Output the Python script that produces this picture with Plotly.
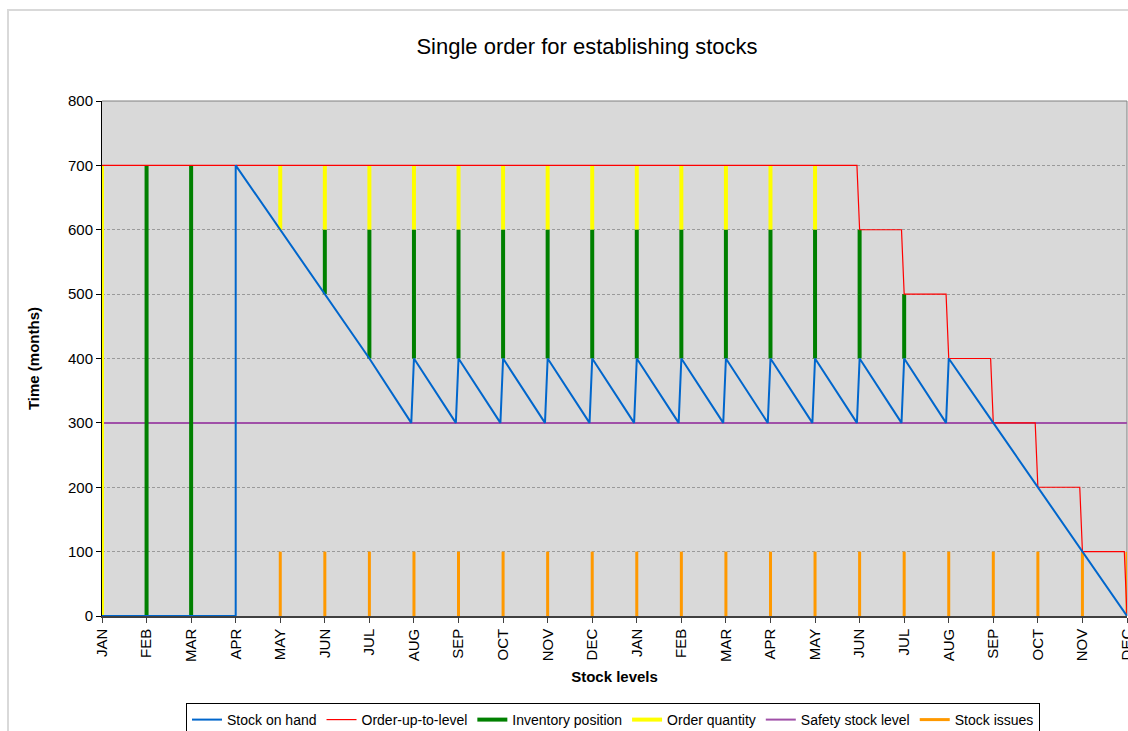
import plotly.graph_objects as go

# Month labels for the two-year horizon
months = ["JAN", "FEB", "MAR", "APR", "MAY", "JUN", "JUL", "AUG", "SEP", "OCT", "NOV", "DEC",
          "JAN", "FEB", "MAR", "APR", "MAY", "JUN", "JUL", "AUG", "SEP", "OCT", "NOV", "DEC"]

# Stock on hand just before the month's receipt, and right after it
stock_before = [0, 0, 0, 0, 600, 500, 400, 300, 300, 300, 300, 300,
                300, 300, 300, 300, 300, 300, 300, 300, 300, 200, 100, 0]
stock_after = [0, 0, 0, 700, 600, 500, 400, 400, 400, 400, 400, 400,
               400, 400, 400, 400, 400, 400, 400, 400, 300, 200, 100, 0]

# Order-up-to level per month
order_up_to = [700, 700, 700, 700, 700, 700, 700, 700, 700, 700, 700, 700,
               700, 700, 700, 700, 700, 600, 500, 400, 300, 200, 100, 0]

# Inventory position bars (low / high), None where no bar
inv_low = [None, 0, 0, None, None, 500, 400, 400, 400, 400, 400, 400,
           400, 400, 400, 400, 400, 400, 400, None, None, None, None, None]
inv_high = [None, 700, 700, None, None, 600, 600, 600, 600, 600, 600, 600,
            600, 600, 600, 600, 600, 600, 500, None, None, None, None, None]

# Order quantity bars (low / high)
ord_low = [0, None, None, None, 600, 600, 600, 600, 600, 600, 600, 600,
           600, 600, 600, 600, 600, None, None, None, None, None, None, None]
ord_high = [700, None, None, None, 700, 700, 700, 700, 700, 700, 700, 700,
            700, 700, 700, 700, 700, None, None, None, None, None, None, None]

# Safety stock level
safety_stock = [300] * 24

# Stock issued during each month
stock_issues = [None, None, None, None, 100, 100, 100, 100, 100, 100, 100, 100,
                100, 100, 100, 100, 100, 100, 100, 100, 100, 100, 100, 100]

EPS = 0.06  # small offset so jumps are drawn just before the month tick
FONT = "Liberation Sans, Arial, sans-serif"


def jump_line(before, after):
    xs, ys = [], []
    for i, (b, a) in enumerate(zip(before, after)):
        if b != a:
            # the opening delivery lands on an empty store: a straight vertical rise
            xs += [i if b == 0 else i - EPS, i]
            ys += [b, a]
        else:
            xs.append(i)
            ys.append(a)
    return xs, ys


def step_line(vals):
    xs, ys = [], []
    for i, v in enumerate(vals):
        if i > 0 and v != vals[i - 1]:
            xs += [i - EPS, i]
            ys += [vals[i - 1], v]
        else:
            xs.append(i)
            ys.append(v)
    return xs, ys


def bars(low, high):
    xs, ys = [], []
    for i, (lo, hi) in enumerate(zip(low, high)):
        if lo is None or hi is None:
            continue
        xs += [i, i, None]
        ys += [lo, hi, None]
    return xs, ys


fig = go.Figure()

fig.add_trace(go.Scatter(x=list(range(24)), y=safety_stock, mode="lines",
                         name="Safety stock level",
                         line=dict(color="#A050A8", width=2), legendrank=5))

ix, iy = bars([0 if v is not None else None for v in stock_issues], stock_issues)
fig.add_trace(go.Scatter(x=ix, y=iy, mode="lines", name="Stock issues",
                         line=dict(color="#FF9900", width=3), legendrank=6))

ox, oy = bars(ord_low, ord_high)
fig.add_trace(go.Scatter(x=ox, y=oy, mode="lines", name="Order quantity",
                         line=dict(color="#FFFF00", width=4), legendrank=4))

gx, gy = bars(inv_low, inv_high)
fig.add_trace(go.Scatter(x=gx, y=gy, mode="lines", name="Inventory position",
                         line=dict(color="#008000", width=4), legendrank=3))

rx, ry = step_line(order_up_to)
fig.add_trace(go.Scatter(x=rx, y=ry, mode="lines", name="Order-up-to-level",
                         line=dict(color="#FF0000", width=1.2), legendrank=2))

bx, by = jump_line(stock_before, stock_after)
fig.add_trace(go.Scatter(x=bx, y=by, mode="lines", name="Stock on hand",
                         line=dict(color="#0066CC", width=2), legendrank=1))

W, H = 1128, 731
L, R, T, B = 102, 1, 101, 115
pw, ph = W - L - R, H - T - B


def px_x(p):
    return (p - L) / pw


def px_y(p):
    return (H - B - p) / ph


fig.update_layout(
    width=W, height=H,
    margin=dict(l=L, r=R, t=T, b=B, autoexpand=False),
    paper_bgcolor="white",
    plot_bgcolor="#D9D9D9",
    font=dict(family=FONT, size=15, color="black"),
    title=dict(text="Single order for establishing stocks", x=587 / W, xref="container",
               xanchor="center", y=1 - 46 / H, yref="container", yanchor="middle",
               font=dict(size=22, family=FONT)),
    showlegend=True,
    legend=dict(orientation="h", x=px_x(186), y=px_y(703), xanchor="left", yanchor="top",
                bgcolor="white", bordercolor="black", borderwidth=1,
                font=dict(size=14, family=FONT), traceorder="normal"),
    xaxis=dict(range=[0, 23], tickmode="array", tickvals=list(range(24)), ticktext=months,
               tickangle=-90, ticks="outside", ticklen=5, tickcolor="#404040",
               ticklabeloverflow="allow", automargin=False,
               showgrid=False, zeroline=False, showline=True, linecolor="#404040",
               linewidth=1.5, tickfont=dict(size=15),
               title=dict(text="<b>Stock levels</b>", font=dict(size=15), standoff=10)),
    yaxis=dict(range=[0, 800], dtick=100, ticks="outside", ticklen=5, tickcolor="black",
               showgrid=True, gridcolor="#9A9A9A", griddash="3px,2px", gridwidth=1,
               zeroline=False, showline=True, linecolor="black", linewidth=1,
               tickfont=dict(size=15), automargin=False,
               title=dict(text="<b>Time (months)</b>", font=dict(size=15), standoff=24)),
    shapes=[
        # outer chart frame
        dict(type="rect", xref="paper", yref="paper", x0=px_x(8), y0=px_y(10),
             x1=px_x(1200), y1=px_y(800), line=dict(color="#D9D9D9", width=2),
             fillcolor="rgba(0,0,0,0)", layer="below"),
        # plot area top and right edges
        dict(type="line", xref="paper", yref="paper", x0=0, x1=1, y0=1, y1=1,
             line=dict(color="#808080", width=1), layer="below"),
        dict(type="line", xref="paper", yref="paper", x0=1, x1=1, y0=0, y1=1,
             line=dict(color="#808080", width=1), layer="below"),
    ],
)

fig.write_html("out.html")
